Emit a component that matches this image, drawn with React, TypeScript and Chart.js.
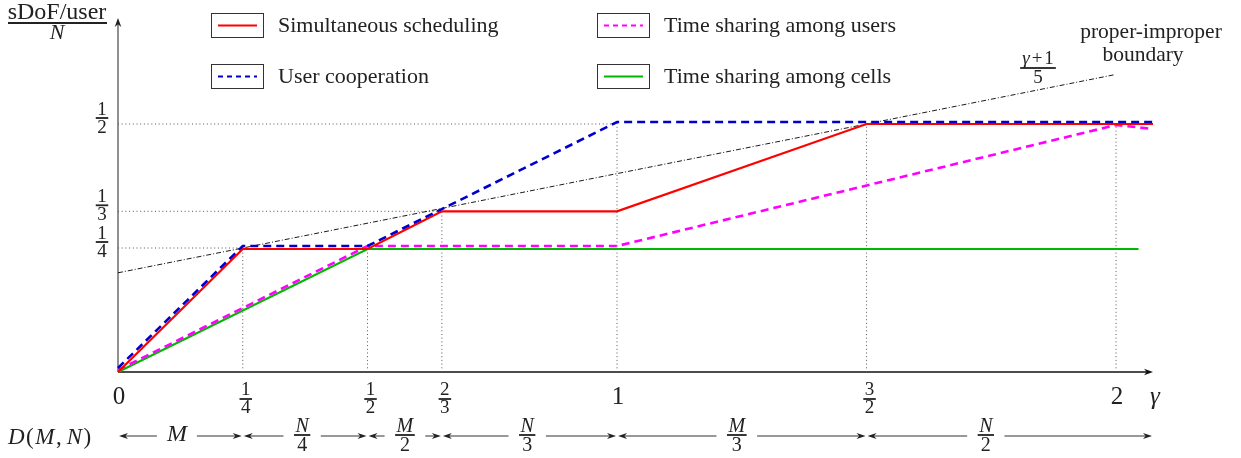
import React, { useEffect, useRef } from "react";
import { Chart, registerables } from "chart.js";

Chart.register(...registerables);

const W = 1241;
const H = 458;

// ---- series data (gamma on x, sDoF/user / N on y) ----
const simGamma = [0, 0.25, 0.5, 0.649, 1, 1.5, 2.074];
const simValues = [0, 0.248, 0.248, 0.324, 0.324, 0.5, 0.5];

const coopGamma = [0, 0.25, 0.5, 1, 2.074];
const coopValues = [0.008, 0.254, 0.254, 0.504, 0.504];

const tsUsersGamma = [0, 0.5, 1, 2, 2.074];
const tsUsersValues = [0.004, 0.254, 0.254, 0.498, 0.49];

const tsCellsGamma = [0, 0.5, 2.045];
const tsCellsValues = [0, 0.248, 0.248];

const boundaryGamma = [0, 1.995];
const boundaryValues = [0.2, 0.599];

// ---- guide lines ----
const vGuideGamma = [0.25, 0.5, 0.649, 1, 1.5, 2];
const vGuideTop = [0.25, 0.25, 0.324, 0.504, 0.5, 0.498];
const hGuideValues = [0.25, 0.324, 0.5];
const hGuideEnd = [0.25, 0.649, 1];

// ---- tick labels ----
const xTickGamma = [0, 0.25, 0.5, 0.649, 1, 1.5, 2];
const xTickLabels = ["0", "1/4", "1/2", "2/3", "1", "3/2", "2"];
const yTickValues = [0.25, 0.324, 0.5];
const yTickLabels = ["1/4", "1/3", "1/2"];

// ---- D(M,N) regions ----
const regionBounds = [0, 0.25, 0.5, 0.649, 1, 1.5, 2.074];
const regionLabels = ["M", "N/4", "M/2", "N/3", "M/3", "N/2"];
const regionLabelGamma = [0.118, 0.369, 0.575, 0.82, 1.24, 1.739];

const seriesNames = [
  "Simultaneous scheduling",
  "User cooperation",
  "Time sharing among users",
  "Time sharing among cells",
];

const X_MAX = 2.074;
const Y_MAX = 0.7097;
const FONT = '"Liberation Serif", "DejaVu Serif", serif';
const TEXT = "#222";

const pts = (xs: number[], ys: number[]) => xs.map((x, i) => ({ x, y: ys[i] }));

function arrowHead(ctx: CanvasRenderingContext2D, x: number, y: number, angle: number, len = 9, half = 3.3) {
  ctx.save();
  ctx.translate(x, y);
  ctx.rotate(angle);
  ctx.beginPath();
  ctx.moveTo(0, 0);
  ctx.lineTo(-len, -half);
  ctx.lineTo(-len * 0.7, 0);
  ctx.lineTo(-len, half);
  ctx.closePath();
  ctx.fill();
  ctx.restore();
}

function isLetter(s: string) {
  return /[A-Za-z]/.test(s);
}

function drawFrac(
  ctx: CanvasRenderingContext2D,
  num: string,
  den: string,
  cx: number,
  barY: number,
  size: number,
  numGap: number,
  denGap: number
) {
  const fNum = `${isLetter(num) ? "italic " : ""}${size}px ${FONT}`;
  const fDen = `${isLetter(den) ? "italic " : ""}${size}px ${FONT}`;
  ctx.font = fNum;
  const wn = ctx.measureText(num).width;
  ctx.font = fDen;
  const wd = ctx.measureText(den).width;
  const w = Math.max(wn, wd) + 3;
  ctx.fillRect(cx - w / 2, barY - 0.9, w, 1.8);
  ctx.textAlign = "center";
  ctx.textBaseline = "alphabetic";
  ctx.font = fNum;
  ctx.fillText(num, cx, barY - numGap);
  ctx.font = fDen;
  ctx.fillText(den, cx, barY + denGap);
}

const overlayPlugin = {
  id: "overlay",
  beforeDatasetsDraw(chart: any) {
    const ctx: CanvasRenderingContext2D = chart.ctx;
    const xs = chart.scales.x;
    const ys = chart.scales.y;
    const x0 = xs.getPixelForValue(0);
    const y0 = ys.getPixelForValue(0);
    ctx.save();
    ctx.strokeStyle = "#111";
    ctx.fillStyle = "#111";
    ctx.lineWidth = 1.3;
    ctx.beginPath();
    ctx.moveTo(x0, y0);
    ctx.lineTo(1148, y0);
    ctx.stroke();
    arrowHead(ctx, 1153, y0, 0);
    ctx.strokeStyle = "#555";
    ctx.fillStyle = "#222";
    ctx.beginPath();
    ctx.moveTo(x0, y0);
    ctx.lineTo(x0, 24);
    ctx.stroke();
    arrowHead(ctx, x0, 18, -Math.PI / 2);
    ctx.restore();
  },
  afterDraw(chart: any) {
    const ctx: CanvasRenderingContext2D = chart.ctx;
    const xs = chart.scales.x;
    const ys = chart.scales.y;
    ctx.save();
    ctx.fillStyle = TEXT;
    ctx.strokeStyle = TEXT;

    // y title
    ctx.font = `24px ${FONT}`;
    ctx.textAlign = "center";
    ctx.textBaseline = "alphabetic";
    ctx.fillText("sDoF/user", 57, 19);
    ctx.fillRect(8, 22, 99, 2);
    ctx.font = `italic 22px ${FONT}`;
    ctx.fillText("N", 57, 39);

    // y tick labels
    yTickValues.forEach((v, i) => {
      const [n, d] = yTickLabels[i].split("/");
      drawFrac(ctx, n, d, 102, ys.getPixelForValue(v) - 6, 19, 3, 15);
    });

    // x tick labels
    xTickGamma.forEach((g, i) => {
      const px = xs.getPixelForValue(g);
      const lab = xTickLabels[i];
      if (lab.includes("/")) {
        const [n, d] = lab.split("/");
        drawFrac(ctx, n, d, px + 3, 399, 19, 4, 14);
      } else {
        ctx.font = `25px ${FONT}`;
        ctx.textAlign = "center";
        ctx.textBaseline = "alphabetic";
        ctx.fillText(lab, px + 1, 404);
      }
    });
    ctx.font = `italic 25px ${FONT}`;
    ctx.textAlign = "center";
    ctx.fillText("γ", 1155, 404);

    // D(M,N) row
    const ay = 436;
    let dx = 8;
    const parts: [string, boolean][] = [["D", true], ["(", false], ["M", true], [",", false], ["N", true], [")", false]];
    ctx.textAlign = "left";
    parts.forEach(([t, it]) => {
      ctx.font = `${it ? "italic " : ""}23px ${FONT}`;
      ctx.fillText(t, dx, 444);
      dx += ctx.measureText(t).width + (t === "," ? 5 : 1.5);
    });

    ctx.strokeStyle = "#333";
    ctx.fillStyle = "#222";
    ctx.lineWidth = 1;
    regionLabels.forEach((lab, i) => {
      const a = xs.getPixelForValue(regionBounds[i]);
      const b = xs.getPixelForValue(regionBounds[i + 1]);
      const c = xs.getPixelForValue(regionLabelGamma[i]);
      let half = 10;
      if (lab.includes("/")) {
        const [n, d] = lab.split("/");
        ctx.font = `italic 20px ${FONT}`;
        half = ctx.measureText(n).width / 2 + 2;
        drawFrac(ctx, n, d, c, 435, 20, 3, 16);
      } else {
        ctx.font = `italic 24px ${FONT}`;
        half = ctx.measureText(lab).width / 2;
        ctx.textAlign = "center";
        ctx.fillText(lab, c, 441);
      }
      const gap = half + 10;
      ctx.beginPath();
      ctx.moveTo(a + 4, ay);
      ctx.lineTo(c - gap, ay);
      ctx.moveTo(c + gap, ay);
      ctx.lineTo(b - 4, ay);
      ctx.stroke();
      arrowHead(ctx, a + 1, ay, Math.PI, 9, 3);
      arrowHead(ctx, b - 1, ay, 0, 9, 3);
    });

    // boundary label
    ctx.fillStyle = TEXT;
    {
      const cx = 1038;
      const barY = 68;
      const size = 19;
      ctx.font = `italic ${size}px ${FONT}`;
      const wg = ctx.measureText("γ").width;
      ctx.font = `${size}px ${FONT}`;
      const wp = ctx.measureText("+").width;
      const w1 = ctx.measureText("1").width;
      const sp = 2;
      const w = wg + wp + w1 + 2 * sp;
      ctx.fillRect(cx - w / 2 - 2, barY - 0.9, w + 4, 1.8);
      ctx.textAlign = "left";
      let tx = cx - w / 2;
      ctx.font = `italic ${size}px ${FONT}`;
      ctx.fillText("γ", tx, barY - 4);
      tx += wg + sp;
      ctx.font = `${size}px ${FONT}`;
      ctx.fillText("+", tx, barY - 4);
      tx += wp + sp;
      ctx.fillText("1", tx, barY - 4);
      ctx.textAlign = "center";
      ctx.fillText("5", cx, barY + 15);
    }
    ctx.font = `21.5px ${FONT}`;
    ctx.textAlign = "center";
    ctx.fillText("proper-improper", 1151, 38);
    ctx.fillText("boundary", 1143, 61);

    // legend
    const ds = chart.data.datasets;
    const boxes = [
      { x: 211, y: 13 },
      { x: 211, y: 64 },
      { x: 597, y: 13 },
      { x: 597, y: 64 },
    ];
    boxes.forEach((bx, i) => {
      const d = ds[i];
      ctx.strokeStyle = "#333";
      ctx.lineWidth = 1;
      ctx.setLineDash([]);
      ctx.strokeRect(bx.x + 0.5, bx.y + 0.5, 52, 24);
      ctx.strokeStyle = d.borderColor;
      ctx.lineWidth = 2;
      ctx.setLineDash(d.borderDash && d.borderDash.length ? [5, 4] : []);
      ctx.beginPath();
      ctx.moveTo(bx.x + 7, bx.y + 12.5);
      ctx.lineTo(bx.x + 46, bx.y + 12.5);
      ctx.stroke();
      ctx.setLineDash([]);
      ctx.fillStyle = TEXT;
      ctx.font = `22px ${FONT}`;
      ctx.textAlign = "left";
      ctx.textBaseline = "alphabetic";
      ctx.fillText(seriesNames[i], bx.x + 67, bx.y + 19);
    });

    ctx.restore();
  },
};

export default function App() {
  const ref = useRef<HTMLCanvasElement | null>(null);
  useEffect(() => {
    if (!ref.current) return;
    const guides: any[] = [];
    const guideStyle = {
      borderColor: "#555",
      borderWidth: 1,
      borderDash: [1, 2.7],
      pointRadius: 0,
      clip: false,
      order: 9,
    };
    vGuideGamma.forEach((g, i) => {
      guides.push({
        data: [
          { x: g, y: 0 },
          { x: g, y: vGuideTop[i] },
        ],
        ...guideStyle,
      });
    });
    hGuideValues.forEach((v, i) => {
      guides.push({
        data: [
          { x: 0, y: v },
          { x: hGuideEnd[i], y: v },
        ],
        ...guideStyle,
      });
    });
    const chart = new Chart(ref.current, {
      type: "line",
      data: {
        datasets: [
          {
            label: seriesNames[0],
            data: pts(simGamma, simValues),
            borderColor: "#ff0000",
            borderWidth: 2.2,
            pointRadius: 0,
            clip: false,
            order: 2,
          },
          {
            label: seriesNames[1],
            data: pts(coopGamma, coopValues),
            borderColor: "#0000cc",
            borderWidth: 2.6,
            borderDash: [8, 5],
            pointRadius: 0,
            clip: false,
            order: 1,
          },
          {
            label: seriesNames[2],
            data: pts(tsUsersGamma, tsUsersValues),
            borderColor: "#ff00ff",
            borderWidth: 2.6,
            borderDash: [8, 5],
            pointRadius: 0,
            clip: false,
            order: 3,
          },
          {
            label: seriesNames[3],
            data: pts(tsCellsGamma, tsCellsValues),
            borderColor: "#00b800",
            borderWidth: 2.2,
            pointRadius: 0,
            clip: false,
            order: 4,
          },
          {
            label: "proper-improper boundary",
            data: pts(boundaryGamma, boundaryValues),
            borderColor: "#000",
            borderWidth: 0.9,
            borderDash: [5, 2, 1, 2],
            pointRadius: 0,
            clip: false,
            order: 5,
          },
          ...guides,
        ],
      } as any,
      options: {
        responsive: false,
        animation: false,
        devicePixelRatio: 1,
        layout: { padding: { left: 118, right: W - 1153, top: 20, bottom: H - 372 } },
        plugins: { legend: { display: false }, tooltip: { enabled: false } },
        elements: { line: { tension: 0 } },
        scales: {
          x: { type: "linear", min: 0, max: X_MAX, display: false },
          y: { type: "linear", min: 0, max: Y_MAX, display: false },
        },
      } as any,
      plugins: [overlayPlugin],
    });
    return () => chart.destroy();
  }, []);
  return (
    <div style={{ position: "fixed", left: 0, top: 0, width: W, height: H, background: "#fff" }}>
      <canvas ref={ref} width={W} height={H} style={{ display: "block", width: W, height: H }} />
    </div>
  );
}
